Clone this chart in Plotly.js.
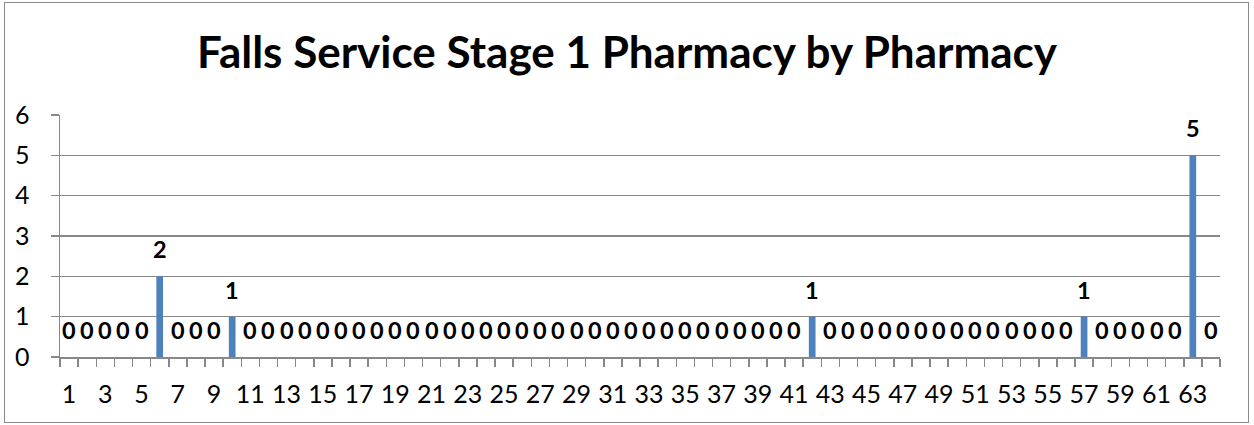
<!DOCTYPE html>
<html>
<head>
<meta charset="utf-8">
<script src="https://cdn.plot.ly/plotly-3.0.1.min.js"></script>
<style>
html,body{margin:0;padding:0;background:#fff;}
#chart{width:1254px;height:425px;position:relative;}
#frame{position:absolute;left:4px;top:2px;width:1245px;height:421px;border:1.5px solid #8a8a8a;pointer-events:none;box-sizing:border-box;}
</style>
</head>
<body>
<div id="chart"></div>
<div id="frame"></div>
<script>
const categories = Array.from({length: 64}, (_, i) => i + 1);
const values = [
  0,0,0,0,0, 2, 0,0,0, 1,
  0,0,0,0,0,0,0,0,0,0,0,0,0,0,0,0,0,0,0,0,0,0,0,0,0,0,0,0,0,0,0,
  1,
  0,0,0,0,0,0,0,0,0,0,0,0,0,0,
  1,
  0,0,0,0,0,
  5,
  0
];
const tickLabels = categories.filter(c => c % 2 === 1);
const titleText = "Falls Service Stage 1 Pharmacy by Pharmacy";

const FONT = "Lato";

const annotations = categories.map((c, i) => ({
  x: c, y: values[i], xref: 'x', yref: 'y',
  text: '<b>' + values[i] + '</b>', showarrow: false,
  yanchor: 'middle', yshift: 27,
  font: {family: FONT, size: 23.5, color: '#000'}
}));

const trace = {
  type: 'bar',
  x: categories,
  y: values,
  marker: {color: '#4F81BD'},
  width: 0.37,
  hoverinfo: 'x+y'
};

const layout = {
  width: 1254, height: 425,
  margin: {l: 60, r: 34, t: 115, b: 68},
  paper_bgcolor: '#fff', plot_bgcolor: '#fff',
  showlegend: false,
  title: {
    text: '<b>' + titleText + '</b>',
    font: {family: FONT, size: 44, color: '#000'},
    x: 0.5, xanchor: 'center',
    yref: 'container', y: 1 - 53/425, yanchor: 'middle'
  },
  xaxis: {
    type: 'linear',
    range: [0.5, 64.5],
    tickmode: 'array',
    tickvals: tickLabels,
    ticktext: tickLabels.map(String),
    ticks: '',
    showgrid: false,
    zeroline: false,
    showline: true, linecolor: '#888', linewidth: 1.5,
    tickfont: {family: FONT, size: 25, color: '#000'},
    ticklabelstandoff: 14,
    minor: {tickmode: 'linear', tick0: 0.5, dtick: 1, ticks: 'outside', ticklen: 8, tickcolor: '#888', tickwidth: 1.5, showgrid: false},
    fixedrange: true
  },
  yaxis: {
    range: [0, 6],
    tickmode: 'linear', tick0: 0, dtick: 1,
    showgrid: true, gridcolor: '#888', gridwidth: 1.5,
    zeroline: false,
    showline: true, linecolor: '#888', linewidth: 1.5,
    ticks: 'outside', ticklen: 8, tickcolor: '#888', tickwidth: 1.5,
    tickfont: {family: FONT, size: 25, color: '#000'},
    ticklabelstandoff: 16,
    fixedrange: true
  },
  annotations: annotations
};

Plotly.newPlot('chart', [trace], layout, {displayModeBar: false, staticPlot: true});
</script>
</body>
</html>
